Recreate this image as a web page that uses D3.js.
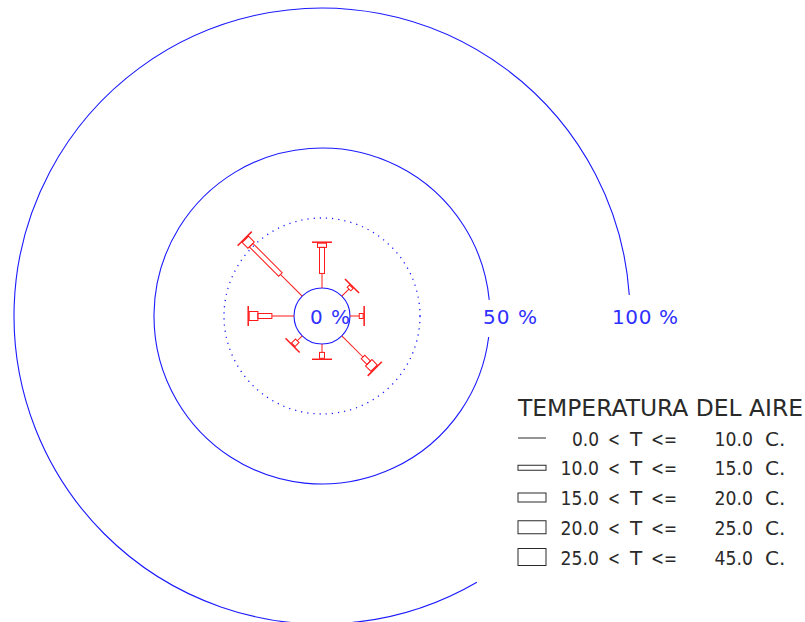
<!DOCTYPE html>
<html><head><meta charset="utf-8">
<script src="https://cdn.jsdelivr.net/npm/d3@7"></script>
<style>html,body{margin:0;padding:0;background:#fff;} svg{display:block}</style>
</head><body>
<script>
// ---- data ----
const directions = ["N","NE","E","SE","S","SW","W","NW"];
const tempClasses = ["0-10","10-15","15-20","20-25","25-45"];
const classLow  = ["0.0","10.0","15.0","20.0","25.0"];
const classHigh = ["10.0","15.0","20.0","25.0","45.0"];
// percentage of observations per direction for each temperature class
const t0_10  = [5.2, 3.6, 3.3, 10.7, 3.0, 2.5, 7.9, 11.0];
const t10_15 = [9.3, 1.2, 1.4, 2.9, 2.1, 2.0, 5.0, 14.8];
const t15_20 = [1.5, 0.0, 0.0, 2.7, 0.0, 0.0, 3.1, 2.9];
const t20_25 = [0, 0, 0, 0, 0, 0, 0, 0];
const t25_45 = [0, 0, 0, 0, 0, 0, 0, 0];
const ringTicks  = [0, 50, 100];
const ringLabels = ["0 %", "50 %", "100 %"];
const dottedRing = 25;
const legendTitle = "TEMPERATURA DEL AIRE";

// ---- layout ----
const W = 805, H = 622, cx = 322, cy = 316;
const RED = "#ff1a1a", BLUE = "#1a1aff", TXT = "#2a2a2a";
const svg = d3.select("body").append("svg").attr("width", W).attr("height", H);

const r = d3.scaleLinear().domain([0, 100]).range([28, 308]);
const ang = d3.scalePoint().domain(directions).range([0, 315]);
const wid = d3.scaleOrdinal().domain(tempClasses).range([0, 5, 9, 13, 17]);
const series = [t0_10, t10_15, t15_20, t20_25, t25_45];
const capLen = 20;

// rings
const rad = d => d * Math.PI / 180;
svg.append("circle").attr("cx", cx).attr("cy", cy).attr("r", r(ringTicks[0]))
  .attr("fill", "none").attr("stroke", BLUE).attr("stroke-width", 1.1);
svg.append("circle").attr("cx", cx).attr("cy", cy).attr("r", r(dottedRing))
  .attr("fill", "none").attr("stroke", BLUE).attr("stroke-width", 1.3)
  .attr("stroke-dasharray", "1.2 5");
const gaps = [null, [7.2, 354.5], [59.8, 356.1]];
ringTicks.forEach((t, i) => {
  if (!gaps[i]) return;
  const p = d3.path();
  p.arc(cx, cy, r(t), rad(gaps[i][0]), rad(gaps[i][1]), false);
  svg.append("path").attr("d", p.toString()).attr("fill", "none")
    .attr("stroke", BLUE).attr("stroke-width", 1.1);
});
const labelDx = [-40, -7, -18];
const labelLen = [40, 54, 66];
ringTicks.forEach((t, i) => {
  svg.append("text").attr("x", cx + r(t) + labelDx[i]).attr("y", cy + 8)
    .attr("font-family", "DejaVu Sans").attr("font-size", 20)
    .attr("fill", "#3030ff")
    .attr("textLength", labelLen[i]).attr("lengthAdjust", "spacing")
    .text(ringLabels[i]);
});

// spokes
directions.forEach((d, i) => {
  const g = svg.append("g")
    .attr("transform", `translate(${cx},${cy}) rotate(${ang(d) - 90})`);
  let cum = 0;
  series.forEach((s, k) => {
    const v = s[i];
    if (v <= 0) return;
    const r0 = r(cum), r1 = r(cum + v);
    cum += v;
    const w = wid(tempClasses[k]);
    if (w === 0) {
      g.append("line").attr("x1", r0).attr("x2", r1).attr("y1", 0).attr("y2", 0)
        .attr("stroke", RED).attr("stroke-width", 1);
    } else {
      g.append("rect").attr("x", r0).attr("y", -w / 2)
        .attr("width", r1 - r0).attr("height", w)
        .attr("fill", "none").attr("stroke", RED).attr("stroke-width", 1);
    }
  });
  const re = r(cum) + 1;
  g.append("line").attr("x1", re).attr("x2", re)
    .attr("y1", -capLen / 2).attr("y2", capLen / 2)
    .attr("stroke", RED).attr("stroke-width", 1.5);
});

// legend
const lx = 518, symW = 28;
svg.append("text").attr("x", lx).attr("y", 416)
  .attr("font-family", "DejaVu Sans").attr("font-size", 23).attr("fill", TXT)
  .attr("textLength", 285).attr("lengthAdjust", "spacingAndGlyphs")
  .text(legendTitle);
const rowY = d3.scaleLinear().domain([0, 4]).range([438, 557]);
const numLen = s => s.replace(".", "").length * 11.3 + 4.5;
tempClasses.forEach((c, i) => {
  const y = rowY(i), w = wid(c);
  if (w === 0) {
    svg.append("line").attr("x1", lx).attr("x2", lx + symW).attr("y1", y).attr("y2", y)
      .attr("stroke", TXT).attr("stroke-width", 1);
  } else {
    svg.append("rect").attr("x", lx).attr("y", y - w / 2).attr("width", symW).attr("height", w)
      .attr("fill", "none").attr("stroke", TXT).attr("stroke-width", 1);
  }
  const ty = y + 7.5;
  const t = (x, s, anchor, len) => {
    const e = svg.append("text").attr("x", x).attr("y", ty)
      .attr("font-family", "DejaVu Sans").attr("font-size", 20).attr("fill", TXT)
      .attr("text-anchor", anchor).text(s);
    if (len) e.attr("textLength", len).attr("lengthAdjust", "spacingAndGlyphs");
    return e;
  };
  t(599, classLow[i], "end", numLen(classLow[i]));
  t(608, "<", "start", 12);
  t(630, "T", "start");
  t(651, "<=", "start", 26);
  t(753, classHigh[i], "end", numLen(classHigh[i]));
  t(765, "C.", "start");
});
</script>
</body></html>
